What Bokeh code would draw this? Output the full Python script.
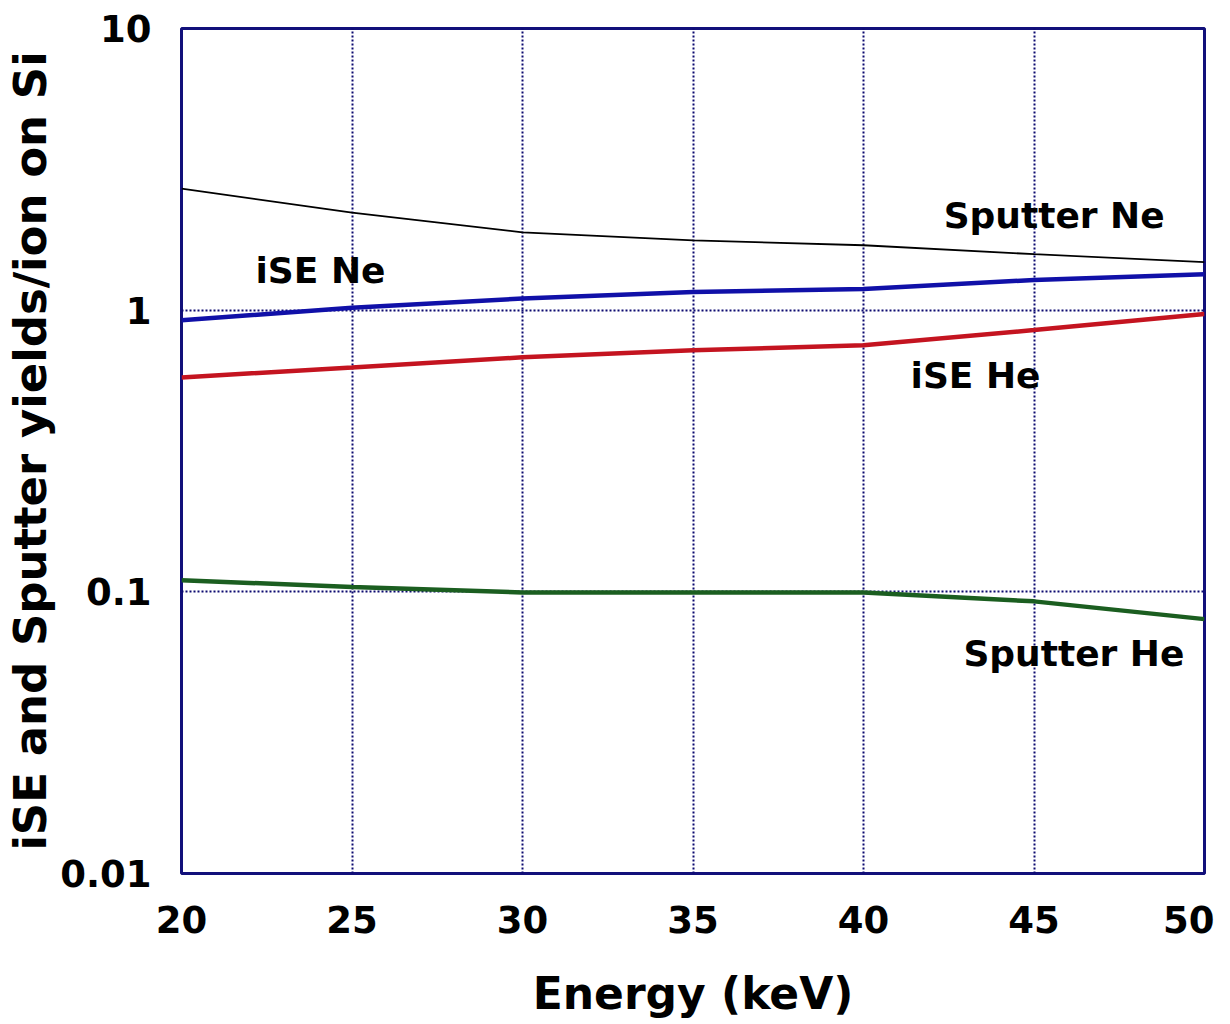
import numpy as np
from bokeh.plotting import figure
from bokeh.models import FixedTicker, Range1d
from bokeh.core.properties import value
from bokeh.embed import file_html
from bokeh.resources import INLINE

energy = [20, 25, 30, 35, 40, 45, 50]
sputter_ne = [2.70, 2.22, 1.89, 1.77, 1.70, 1.58, 1.48]
ise_ne = [0.92, 1.02, 1.10, 1.16, 1.19, 1.28, 1.34]
ise_he = [0.577, 0.626, 0.68, 0.72, 0.75, 0.85, 0.97]
sputter_he = [0.110, 0.104, 0.0995, 0.0995, 0.0995, 0.0925, 0.080]

x_ticks = [20, 25, 30, 35, 40, 45, 50]
y_ticks = [0.01, 0.1, 1, 10]
y_tick_labels = ["0.01", "0.1", "1", "10"]

label_texts = ["Sputter Ne", "iSE Ne", "iSE He", "Sputter He"]
label_x = [42.35, 22.17, 41.38, 42.93]
label_y = [2.17, 1.38, 0.586, 0.0604]

FONT = "DejaVu Sans"
NAVY = "#12107a"

p = figure(width=1214, height=1024, y_axis_type="log",
           x_range=Range1d(20, 50), y_range=Range1d(0.01, 10),
           min_border_left=181, min_border_right=10, min_border_top=28,
           min_border_bottom=151, output_backend="svg", toolbar_location=None,
           background_fill_color="white", border_fill_color="white")

p.outline_line_color = NAVY
p.outline_line_width = 3

p.xaxis.ticker = FixedTicker(ticks=x_ticks)
p.yaxis.ticker = FixedTicker(ticks=y_ticks, minor_ticks=[])
p.yaxis.major_label_overrides = {t: l for t, l in zip(y_ticks, y_tick_labels)}

for ax in (p.xaxis, p.yaxis):
    ax.axis_line_color = None
    ax.major_tick_line_color = None
    ax.minor_tick_line_color = None
    ax.major_label_text_font = FONT
    ax.major_label_text_font_style = "bold"
    ax.major_label_text_font_size = "37px"
    ax.major_label_text_color = "black"
    ax.axis_label_text_font = FONT
    ax.axis_label_text_font_style = "bold"
    ax.axis_label_text_color = "black"

p.xaxis.axis_label = "Energy (keV)"
p.yaxis.axis_label = "iSE and Sputter yields/ion on Si"
p.xaxis.axis_label_text_font_size = "44px"
p.yaxis.axis_label_text_font_size = "45px"
p.xaxis.major_label_standoff = 26
p.yaxis.major_label_standoff = 24
p.xaxis.axis_label_standoff = 32
p.yaxis.axis_label_standoff = 0

for g in (p.xgrid, p.ygrid):
    g.grid_line_color = "#0c0a70"
    g.grid_line_width = 2
    g.grid_line_dash = "2 2"
p.ygrid.minor_grid_line_color = None

p.line(energy, sputter_ne, line_color="black", line_width=1.8)
p.line(energy, ise_ne, line_color="#1010a8", line_width=4.5)
p.line(energy, ise_he, line_color="#c41420", line_width=4.5)
p.line(energy, sputter_he, line_color="#1b5e20", line_width=4.5)

p.text(x=label_x, y=label_y, text=label_texts, text_font=value(FONT),
       text_font_style="bold", text_font_size="36px", text_color="black",
       text_align="left", text_baseline="middle")

open("out.html", "w").write(file_html(p, INLINE))
